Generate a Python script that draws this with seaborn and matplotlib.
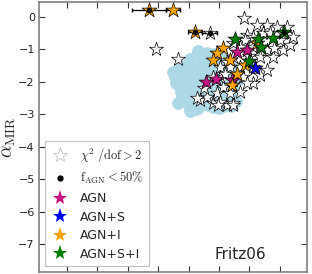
import numpy as np
import pandas as pd
import matplotlib
matplotlib.use("Agg")
import matplotlib.pyplot as plt
from matplotlib.lines import Line2D
import seaborn as sns

# ---------------- data ----------------
# light-blue circles (sources without good fit / background population)
circ_x = [4.50, 4.55, 4.60, 4.75, 4.75, 4.80, 4.85, 4.90, 4.95, 5.05, 5.00, 5.05, 5.10, 5.15,
          5.20, 5.25, 5.30, 5.30, 5.35, 5.40, 5.45, 5.50, 5.50, 5.60, 5.60, 5.65, 5.70, 5.75,
          5.80, 5.85, 5.90, 5.95, 6.00, 6.05, 6.10, 6.15, 6.20, 6.25, 6.30, 6.35, 6.45, 6.50,
          6.55, 6.65, 4.65, 5.05, 6.00, 6.40, 5.30, 4.78, 5.31, 5.80]
circ_y = [-1.70, -1.85, -2.05, -1.50, -2.30, -1.60, -2.50, -1.90, -2.15, -1.30, -2.70, -1.45,
          -1.70, -2.35, -2.00, -2.85, -1.15, -2.60, -1.55, -1.85, -2.20, -1.30, -2.45, -1.10,
          -1.65, -2.70, -2.00, -1.40, -2.30, -1.15, -1.80, -2.55, -1.50, -2.10, -1.25, -2.75,
          -1.70, -2.40, -1.45, -2.00, -2.25, -1.60, -2.60, -1.90, -2.65, -2.90, -2.80, -2.75,
          -1.05, -2.47, -2.81, -2.77]

# white stars: chi2/dof > 2
bad_x = [3.93, 4.65, 6.82, 5.70, 5.38, 5.80, 6.26, 6.46, 5.93, 6.69, 7.12, 7.35, 7.58, 8.10,
         8.34, 8.43, 8.24, 7.90, 7.58, 7.25, 6.92, 6.86, 6.69, 6.46, 6.26, 6.03, 6.69, 7.35,
         7.58, 7.78, 7.12, 7.45, 8.00, 6.79, 6.46, 6.13, 6.92, 7.12, 6.36, 5.60, 6.03, 7.35,
         7.68, 8.10, 7.12, 6.36, 5.80, 6.46, 6.03, 5.28, 6.46, 5.97, 7.00, 7.80, 6.20, 5.50]
bad_y = [-0.98, -1.30, -0.03, -0.49, -2.56, -2.65, -2.71, -2.65, -2.35, -2.30, -2.04, -1.79,
         -1.63, -1.02, -0.86, -0.62, -0.31, -0.31, -0.25, -0.25, -0.56, -0.71, -0.92, -1.23,
         -1.39, -1.54, -1.54, -1.23, -1.02, -1.23, -0.92, -0.49, -0.71, -1.85, -1.94, -2.15,
         -2.04, -1.54, -2.35, -2.47, -1.85, -0.92, -0.49, -0.49, -0.62, -1.54, -1.85, -0.80,
         -2.62, -2.50, -2.71, -2.71, -1.20, -0.95, -1.75, -2.20]

# good fits by decomposition
agn_x = [5.57, 5.90, 6.59, 6.92, 6.43]
agn_y = [-2.00, -1.90, -1.08, -1.02, -1.95]
agns_x = [7.18]
agns_y = [-1.58]
agni_x = [3.70, 4.49, 5.21, 6.13, 5.93, 5.80, 6.36, 6.86, 7.25, 6.43, 6.60]
agni_y = [0.21, 0.21, -0.46, -0.95, -1.12, -1.33, -1.33, -1.48, -0.80, -2.10, -1.75]
agnsi_x = [6.53, 7.28, 7.40, 7.78, 8.14, 7.00]
agnsi_y = [-0.69, -0.69, -0.92, -0.64, -0.47, -1.35]

# sources with f_AGN < 50% (black dots) and their x-errors
low_x = [3.70, 5.21, 5.70, 8.14]
low_y = [0.21, -0.46, -0.49, -0.47]
err_x = [3.70, 4.49, 5.21, 5.70]
err_y = [0.21, 0.21, -0.46, -0.49]
err_dx = [0.55, 0.22, 0.22, 0.25]

yticks = [0, -1, -2, -3, -4, -5, -6, -7]
xticks = [1, 2, 3, 4, 5, 6, 7, 8]

# ---------------- style ----------------
sns.set_style("white")
plt.rcParams["font.family"] = ["DejaVu Sans"]
plt.rcParams["mathtext.fontset"] = "cm"

fig = plt.figure(figsize=(3.12, 2.74), dpi=100)
ax = fig.add_axes([0.125, 0.007, 0.859, 0.986])

c_circ = "#ADD8E6"
c_mag = "#C71585"

sns.scatterplot(x=circ_x, y=circ_y, ax=ax, s=75, color=c_circ, edgecolor=c_circ,
                linewidth=0.5, zorder=1, legend=False)

ax.errorbar(err_x, err_y, xerr=err_dx, fmt="none", ecolor="black", elinewidth=0.9,
            capsize=1.5, zorder=2)

sns.scatterplot(x=bad_x, y=bad_y, ax=ax, marker="*", s=110, color="white",
                edgecolor="black", linewidth=0.5, zorder=3, legend=False)

for xs, ys, col in [(agn_x, agn_y, c_mag), (agns_x, agns_y, "blue"),
                    (agni_x, agni_y, "orange"), (agnsi_x, agnsi_y, "green")]:
    sns.scatterplot(x=xs, y=ys, ax=ax, marker="*", s=125, color=col,
                    edgecolor="black", linewidth=0.5, zorder=4, legend=False)

sns.scatterplot(x=low_x, y=low_y, ax=ax, marker="o", s=14, color="black",
                edgecolor="black", linewidth=0.3, zorder=5, legend=False)

ax.set_xlim(0.08, 8.9)
ax.set_ylim(-7.86, 0.46)
ax.set_xticks(xticks)
ax.set_xticklabels([])
ax.set_yticks(yticks)
ax.set_yticklabels([f"\u2212{abs(t)}" if t < 0 else str(t) for t in yticks])
ax.tick_params(direction="in", length=4, width=0.8, color="#333333", labelsize=8,
               top=True, right=True, bottom=True, left=True, pad=3)
for sp in ax.spines.values():
    sp.set_color("#808080")
    sp.set_linewidth(1.2)

ax.set_ylabel(r"$\alpha_{\rm MIR}$", fontsize=14, labelpad=0)

handles = [
    Line2D([], [], marker="*", ls="none", markersize=11, markerfacecolor="white",
           markeredgecolor="#bbbbbb", markeredgewidth=0.5),
    Line2D([], [], marker="o", ls="none", markersize=3.5, color="black"),
    Line2D([], [], marker="*", ls="none", markersize=11, color=c_mag, markeredgewidth=0),
    Line2D([], [], marker="*", ls="none", markersize=11, color="blue", markeredgewidth=0),
    Line2D([], [], marker="*", ls="none", markersize=11, color="orange", markeredgewidth=0),
    Line2D([], [], marker="*", ls="none", markersize=11, color="green", markeredgewidth=0),
]
labels = [r"$\chi^2\ /\mathrm{dof}>2$", r"$\mathrm{f}_{\rm AGN}<50\%$",
          "AGN", "AGN+S", "AGN+I", "AGN+S+I"]
leg = ax.legend(handles, labels, loc="lower left", fontsize=9, frameon=True,
                fancybox=False, handlelength=1.6, handletextpad=0.8,
                borderpad=0.4, labelspacing=0.45)
leg.get_frame().set_edgecolor("#b0b0b0")
leg.get_frame().set_linewidth(0.8)

ax.text(0.75, 0.048, "Fritz06", transform=ax.transAxes, ha="center",
        va="baseline", fontsize=11)

fig.savefig("out.png", dpi=100)
